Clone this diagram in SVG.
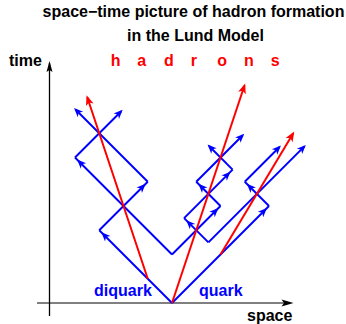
<svg xmlns="http://www.w3.org/2000/svg" width="346" height="324" viewBox="0 0 346 324">
<defs>
<style>
text{font-family:"Liberation Sans",Arial,Helvetica,sans-serif;font-weight:bold;font-size:16px}
.k{fill:#000}
.hb{fill:#ff0000}
.lb{fill:#0000ff}
.b{stroke:#0000ff;stroke-width:2;fill:none}
.r{stroke:#ff0000;stroke-width:2;fill:none}
.bm{marker-end:url(#bm)}
.bt{marker-end:url(#bt)}
.rt{marker-end:url(#rt)}
</style>
<marker id="bm" markerUnits="userSpaceOnUse" markerWidth="20" markerHeight="20" refX="12" refY="0" orient="auto" overflow="visible"><path d="M0,-3.8 L9,0 L0,3.8 L2.5,0 Z" fill="#0000ff"/></marker>
<marker id="bt" markerUnits="userSpaceOnUse" markerWidth="20" markerHeight="20" refX="7" refY="0" orient="auto" overflow="visible"><path d="M0,-3.8 L9,0 L0,3.8 L2.5,0 Z" fill="#0000ff"/></marker>
<marker id="rt" markerUnits="userSpaceOnUse" markerWidth="20" markerHeight="20" refX="8" refY="0" orient="auto" overflow="visible"><path d="M0,-4 L10,0 L0,4 L2.5,0 Z" fill="#ff0000"/></marker>
<marker id="ka" markerUnits="userSpaceOnUse" markerWidth="20" markerHeight="20" refX="9" refY="0" orient="auto" overflow="visible"><path d="M0,-3 L11,0 L0,3 L2,0 Z" fill="#000"/></marker>
</defs>
<rect width="346" height="324" fill="#fff"/>

<g id="title">
<text class="k" x="193.5" y="17" text-anchor="middle">space−time picture of hadron formation</text>
<text class="k" x="195.5" y="41" text-anchor="middle">in the Lund Model</text>
</g>

<g id="axes">
<line x1="37" y1="303" x2="285" y2="303" stroke="#808080" stroke-width="2"/>
<path d="M293.5,303 L281.5,299.5 L284,303 L281.5,306.5 Z" fill="#000"/>
<line x1="49.5" y1="316" x2="49.5" y2="63" stroke="#000" stroke-width="1.3" marker-end="url(#ka)"/>
<text id="time-label" class="k" x="9" y="66">time</text>
<text id="space-label" class="k" x="247" y="321">space</text>
</g>

<g id="hadrons-label">
<text class="hb" x="110.7 124 137.3 151 164 178 190.7 204 217.3 231 244 258 270.7" y="66">h a d r o n s</text>
</g>

<g id="connectors">
<!-- diquark side -->
<path class="b bm" d="M172,303 L99.25,230.25"/>
<path class="b bm" d="M99.25,230.25 L147.75,181.75"/>
<path class="b bt" d="M147.75,181.75 L75.5,109.5"/>
<path class="b bm" d="M172,254.5 L75,157.5"/>
<path class="b bt" d="M75,157.5 L121.25,111.25"/>
<!-- quark side -->
<path class="b bm" d="M172,303 L269,206"/>
<path class="b bm" d="M269,206 L244.75,181.75"/>
<path class="b bt" d="M244.75,181.75 L279.5,147"/>
<path class="b bm" d="M172,254.5 L220.5,206"/>
<path class="b bm" d="M220.5,206 L196.25,181.75"/>
<path class="b bt" d="M196.25,181.75 L242.8,135.2"/>
<path class="b bm" d="M208.4,242.4 L184.1,218.1"/>
<path class="b bm" d="M184.1,218.1 L232.6,169.6"/>
<path class="b bt" d="M232.6,169.6 L209,146"/>
<path class="b bt" d="M208.4,242.4 L304.4,146.4"/>
<!-- hadrons -->
<path class="r rt" d="M147.75,278.75 L87.25,97.25"/>
<path class="r rt" d="M172,303 L244.5,85.5"/>
<path class="r rt" d="M220.5,254.5 L293.25,133.25"/>
</g>

<g id="diquark">
<text class="lb" x="94" y="296">diquark</text>
</g>
<g id="quark">
<text class="lb" x="199" y="296">quark</text>
</g>
</svg>
